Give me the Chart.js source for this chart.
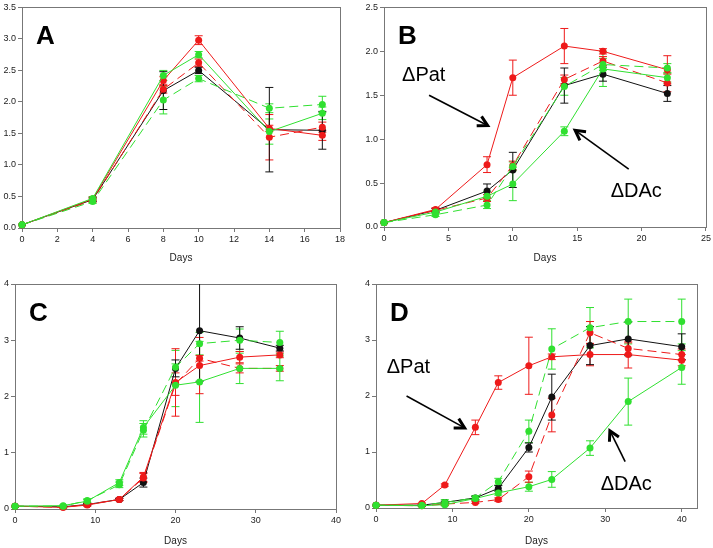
<!DOCTYPE html>
<html>
<head>
<meta charset="utf-8">
<script src="https://cdn.jsdelivr.net/npm/chart.js@4.4.1/dist/chart.umd.min.js"></script>
<style>
  body { margin: 0; background: #fff; width: 713px; height: 548px; position: relative; overflow: hidden; }
  canvas { position: absolute; }
</style>
</head>
<body>
<canvas id="chartA" width="350" height="268" style="left:0;top:0"></canvas>
<canvas id="chartB" width="358" height="268" style="left:355px;top:0"></canvas>
<canvas id="chartC" width="350" height="274" style="left:0;top:274px"></canvas>
<canvas id="chartD" width="358" height="274" style="left:355px;top:274px"></canvas>
<script>
'use strict'

// panel A
const daysA = [0, 4, 8, 10, 14, 17];
const aBlack = [0.05, 0.45, 2.18, 2.50, 1.56, 1.55];
const aBlackErr = [0.01, 0.03, 0.30, 0.05, 0.67, 0.30];
const aRed = [0.05, 0.46, 2.34, 2.98, 1.58, 1.47];
const aRedErr = [0.01, 0.03, 0.06, 0.07, 0.05, 0.08];
const aRedDash = [0.05, 0.44, 2.20, 2.62, 1.44, 1.60];
const aRedDashErr = [0.01, 0.03, 0.06, 0.06, 0.36, 0.08];
const aGreen = [0.05, 0.47, 2.42, 2.75, 1.53, 1.82];
const aGreenErr = [0.01, 0.03, 0.08, 0.05, 0.20, 0.10];
const aGreenDash = [0.05, 0.42, 2.03, 2.37, 1.90, 1.96];
const aGreenDashErr = [0.01, 0.03, 0.22, 0.05, 0.07, 0.13];
const aXTicks = [0, 2, 4, 6, 8, 10, 12, 14, 16, 18];
const aYTicks = [0, 0.5, 1, 1.5, 2, 2.5, 3, 3.5];

// panel B
const daysB = [0, 4, 8, 10, 14, 17, 22];
const bBlack = [0.05, 0.19, 0.41, 0.65, 1.61, 1.74, 1.52];
const bBlackErr = [0.01, 0.02, 0.08, 0.20, 0.20, 0.08, 0.09];
const bRed = [0.05, 0.20, 0.71, 1.70, 2.06, 2.00, 1.79];
const bRedErr = [0.01, 0.02, 0.09, 0.20, 0.20, 0.03, 0.16];
const bRedDash = [0.05, 0.19, 0.33, 0.70, 1.68, 1.89, 1.64];
const bRedDashErr = [0.01, 0.02, 0.04, 0.05, 0.05, 0.05, 0.10];
const bGreen = [0.05, 0.17, 0.35, 0.49, 1.09, 1.80, 1.70];
const bGreenErr = [0.01, 0.02, 0.05, 0.19, 0.05, 0.20, 0.05];
const bGreenDash = [0.05, 0.14, 0.25, 0.69, 1.60, 1.85, 1.81];
const bGreenDashErr = [0.01, 0.02, 0.04, 0.05, 0.10, 0.07, 0.05];
const bXTicks = [0, 5, 10, 15, 20, 25];
const bYTicks = [0, 0.5, 1, 1.5, 2, 2.5];

// panel C
const daysC = [0, 6, 9, 13, 16, 20, 23, 28, 33];
const cBlack = [0.05, 0.04, 0.08, 0.17, 0.47, 2.50, 3.17, 3.04, 2.86];
const cBlackErr = [0.01, 0.01, 0.02, 0.02, 0.08, 0.15, 0.90, 0.20, 0.05];
const cRed = [0.05, 0.03, 0.07, 0.17, 0.57, 2.25, 2.55, 2.70, 2.74];
const cRedErr = [0.01, 0.01, 0.02, 0.02, 0.08, 0.60, 0.50, 0.10, 0.05];
const cRedDash = [0.05, 0.03, 0.08, 0.17, 0.55, 2.22, 2.68, 2.50, 2.50];
const cRedDashErr = [0.01, 0.01, 0.02, 0.02, 0.08, 0.20, 0.05, 0.08, 0.05];
const cGreen = [0.05, 0.06, 0.14, 0.47, 1.45, 2.20, 2.26, 2.50, 2.50];
const cGreenErr = [0.01, 0.01, 0.03, 0.05, 0.12, 0.38, 0.72, 0.27, 0.22];
const cGreenDash = [0.05, 0.05, 0.15, 0.43, 1.40, 2.52, 2.94, 3.00, 2.96];
const cGreenDashErr = [0.01, 0.01, 0.03, 0.05, 0.12, 0.30, 0.20, 0.20, 0.20];
const cXTicks = [0, 10, 20, 30, 40];
const cYTicks = [0, 1, 2, 3, 4];

// panel D
const daysD = [0, 6, 9, 13, 16, 20, 23, 28, 33, 40];
const dBlack = [0.05, 0.05, 0.10, 0.18, 0.35, 1.08, 1.98, 2.90, 3.02, 2.88];
const dBlackErr = [0.01, 0.01, 0.02, 0.03, 0.05, 0.08, 0.41, 0.34, 0.30, 0.23];
const dRed = [0.05, 0.08, 0.41, 1.44, 2.24, 2.54, 2.70, 2.74, 2.74, 2.64];
const dRedErr = [0.01, 0.01, 0.02, 0.13, 0.12, 0.51, 0.05, 0.20, 0.24, 0.10];
const dRedDash = [0.05, 0.04, 0.07, 0.10, 0.15, 0.56, 1.66, 3.13, 2.85, 2.74];
const dRedDashErr = [0.01, 0.01, 0.02, 0.02, 0.03, 0.10, 0.30, 0.20, 0.10, 0.10];
const dGreen = [0.05, 0.04, 0.06, 0.17, 0.27, 0.38, 0.51, 1.07, 1.90, 2.51];
const dGreenErr = [0.01, 0.01, 0.02, 0.03, 0.04, 0.08, 0.14, 0.13, 0.42, 0.30];
const dGreenDash = [0.05, 0.05, 0.10, 0.18, 0.47, 1.37, 2.84, 3.22, 3.33, 3.33];
const dGreenDashErr = [0.01, 0.01, 0.05, 0.04, 0.06, 0.20, 0.36, 0.36, 0.40, 0.40];
const dXTicks = [0, 10, 20, 30, 40];
const dYTicks = [0, 1, 2, 3, 4];

const RED = '#ee1a1a';
const GREEN = '#30e030';
const BLACK = '#111';
const FONT = 'Liberation Sans, Arial, sans-serif';

// error bars, drawn under the markers
const errorBars = {
  id: 'errorBars',
  beforeDatasetsDraw(chart) {
    const ctx = chart.ctx;
    const yScale = chart.scales.y;
    const area = chart.chartArea;
    ctx.save();
    ctx.beginPath();
    ctx.rect(area.left, area.top, area.right - area.left, area.bottom - area.top);
    ctx.clip();
    chart.data.datasets.forEach((ds, i) => {
      const meta = chart.getDatasetMeta(i);
      ctx.strokeStyle = ds.borderColor;
      ctx.lineWidth = 1;
      ctx.setLineDash([]);
      meta.data.forEach((pt, j) => {
        const v = ds.data[j].y;
        const e = ds.errors[j];
        const top = yScale.getPixelForValue(v + e);
        const bot = yScale.getPixelForValue(v - e);
        ctx.beginPath();
        ctx.moveTo(pt.x, top); ctx.lineTo(pt.x, bot);
        ctx.moveTo(pt.x - 4, top); ctx.lineTo(pt.x + 4, top);
        ctx.moveTo(pt.x - 4, bot); ctx.lineTo(pt.x + 4, bot);
        ctx.stroke();
      });
    });
    ctx.restore();
  }
};

// box round the plot area
const frame = {
  id: 'frame',
  beforeDatasetsDraw(chart) {
    const { ctx, chartArea: a } = chart;
    ctx.save();
    ctx.strokeStyle = '#777';
    ctx.lineWidth = 1;
    ctx.strokeRect(Math.round(a.left) + 0.5, Math.round(a.top) + 0.5,
      Math.round(a.right - a.left), Math.round(a.bottom - a.top));
    ctx.restore();
  }
};

// panel letter, labels and arrows
const notes = {
  id: 'notes',
  afterDatasetsDraw(chart, args, opts) {
    const { ctx, chartArea: a, scales: { x, y } } = chart;
    ctx.save();
    ctx.fillStyle = '#000';
    ctx.font = 'bold 26px ' + FONT;
    ctx.textBaseline = 'alphabetic';
    ctx.fillText(opts.letter, a.left + 14, a.top + 37);
    ctx.font = '20px ' + FONT;
    (opts.texts || []).forEach(t => {
      ctx.fillText(t.text, x.getPixelForValue(t.x), y.getPixelForValue(t.y));
    });
    ctx.strokeStyle = '#000';
    (opts.arrows || []).forEach(ar => {
      const x1 = x.getPixelForValue(ar.x1), y1 = y.getPixelForValue(ar.y1);
      const x2 = x.getPixelForValue(ar.x2), y2 = y.getPixelForValue(ar.y2);
      const ang = Math.atan2(y2 - y1, x2 - x1);
      ctx.lineWidth = 1.6;
      ctx.beginPath();
      ctx.moveTo(x1, y1); ctx.lineTo(x2, y2);
      ctx.stroke();
      ctx.lineWidth = 3;
      ctx.beginPath();
      ctx.moveTo(x2 - 11 * Math.cos(ang - 0.5), y2 - 11 * Math.sin(ang - 0.5));
      ctx.lineTo(x2, y2);
      ctx.lineTo(x2 - 11 * Math.cos(ang + 0.5), y2 - 11 * Math.sin(ang + 0.5));
      ctx.stroke();
    });
    ctx.restore();
  }
};

function line(days, vals, errs, color, dashed) {
  return {
    data: days.map((d, i) => ({ x: d, y: vals[i] })),
    errors: errs,
    borderColor: color,
    backgroundColor: color,
    borderWidth: 1,
    borderDash: dashed ? [9, 5] : [],
    pointRadius: 3.5,
    pointBorderWidth: 0,
    pointBackgroundColor: color,
    tension: 0,
    clip: false,
  };
}

function makeChart(id, days, series, o) {
  return new Chart(document.getElementById(id), {
    type: 'line',
    data: {
      datasets: [
        line(days, series.green, series.greenErr, GREEN, false),
        line(days, series.greenDash, series.greenDashErr, GREEN, true),
        line(days, series.red, series.redErr, RED, false),
        line(days, series.redDash, series.redDashErr, RED, true),
        line(days, series.black, series.blackErr, BLACK, false),
      ],
    },
    options: {
      responsive: false,
      animation: false,
      devicePixelRatio: 1,
      layout: { padding: { left: 0, top: o.padTop, right: o.padRight, bottom: 0 } },
      plugins: {
        legend: { display: false },
        tooltip: { enabled: false },
        notes: o.notes,
      },
      scales: {
        x: {
          type: 'linear',
          min: 0,
          max: o.xMax,
          afterBuildTicks: s => { s.ticks = o.xTicks.map(v => ({ value: v })); },
          afterFit: s => { s.height = o.xH; },
          grid: { display: true, drawOnChartArea: false, drawTicks: true, tickLength: 4, color: '#777' },
          border: { display: false },
          ticks: { font: { family: FONT, size: 9 }, color: '#222', padding: 2, maxRotation: 0, autoSkip: false },
          title: {
            display: true, text: 'Days', color: '#222',
            font: { family: FONT, size: 10 },
            padding: { top: 0, bottom: o.titlePad },
          },
        },
        y: {
          min: 0,
          max: o.yMax,
          afterBuildTicks: s => { s.ticks = o.yTicks.map(v => ({ value: v })); },
          afterFit: s => { s.width = o.yW; },
          grid: { display: true, drawOnChartArea: false, drawTicks: true, tickLength: 4, color: '#777' },
          border: { display: false },
          ticks: {
            font: { family: FONT, size: 9 }, color: '#222', padding: 2, autoSkip: false,
            callback: v => v.toFixed(o.dec),
          },
        },
      },
    },
    plugins: [frame, errorBars, notes],
  });
}

makeChart('chartA', daysA, {
  black: aBlack, blackErr: aBlackErr, red: aRed, redErr: aRedErr,
  redDash: aRedDash, redDashErr: aRedDashErr, green: aGreen, greenErr: aGreenErr,
  greenDash: aGreenDash, greenDashErr: aGreenDashErr,
}, {
  xMax: 18, yMax: 3.5, xTicks: aXTicks, yTicks: aYTicks, dec: 1,
  padTop: 5, padRight: 10, yW: 22, xH: 40, titlePad: 4,
  notes: { letter: 'A' },
});

makeChart('chartB', daysB, {
  black: bBlack, blackErr: bBlackErr, red: bRed, redErr: bRedErr,
  redDash: bRedDash, redDashErr: bRedDashErr, green: bGreen, greenErr: bGreenErr,
  greenDash: bGreenDash, greenDashErr: bGreenDashErr,
}, {
  xMax: 25, yMax: 2.5, xTicks: bXTicks, yTicks: bYTicks, dec: 1,
  padTop: 5, padRight: 6, yW: 29, xH: 41, titlePad: 4,
  notes: {
    letter: 'B',
    texts: [{ text: '\u0394Pat', x: 1.4, y: 1.66 }, { text: '\u0394DAc', x: 17.6, y: 0.34 }],
    arrows: [{ x1: 3.5, y1: 1.5, x2: 8.05, y2: 1.155 }, { x1: 19.0, y1: 0.66, x2: 14.84, y2: 1.1 }],
  },
});

makeChart('chartC', daysC, {
  black: cBlack, blackErr: cBlackErr, red: cRed, redErr: cRedErr,
  redDash: cRedDash, redDashErr: cRedDashErr, green: cGreen, greenErr: cGreenErr,
  greenDash: cGreenDash, greenDashErr: cGreenDashErr,
}, {
  xMax: 40, yMax: 4, xTicks: cXTicks, yTicks: cYTicks, dec: 0,
  padTop: 10, padRight: 14, yW: 15, xH: 39, titlePad: 1,
  notes: { letter: 'C' },
});

makeChart('chartD', daysD, {
  black: dBlack, blackErr: dBlackErr, red: dRed, redErr: dRedErr,
  redDash: dRedDash, redDashErr: dRedDashErr, green: dGreen, greenErr: dGreenErr,
  greenDash: dGreenDash, greenDashErr: dGreenDashErr,
}, {
  xMax: 42, yMax: 4, xTicks: dXTicks, yTicks: dYTicks, dec: 0,
  padTop: 10, padRight: 16, yW: 21, xH: 40, titlePad: 1,
  notes: {
    letter: 'D',
    texts: [{ text: '\u0394Pat', x: 1.4, y: 2.41 }, { text: '\u0394DAc', x: 29.4, y: 0.33 }],
    arrows: [{ x1: 4.0, y1: 2.0, x2: 11.6, y2: 1.43 }, { x1: 32.6, y1: 0.83, x2: 30.6, y2: 1.38 }],
  },
});
</script>
</body>
</html>
